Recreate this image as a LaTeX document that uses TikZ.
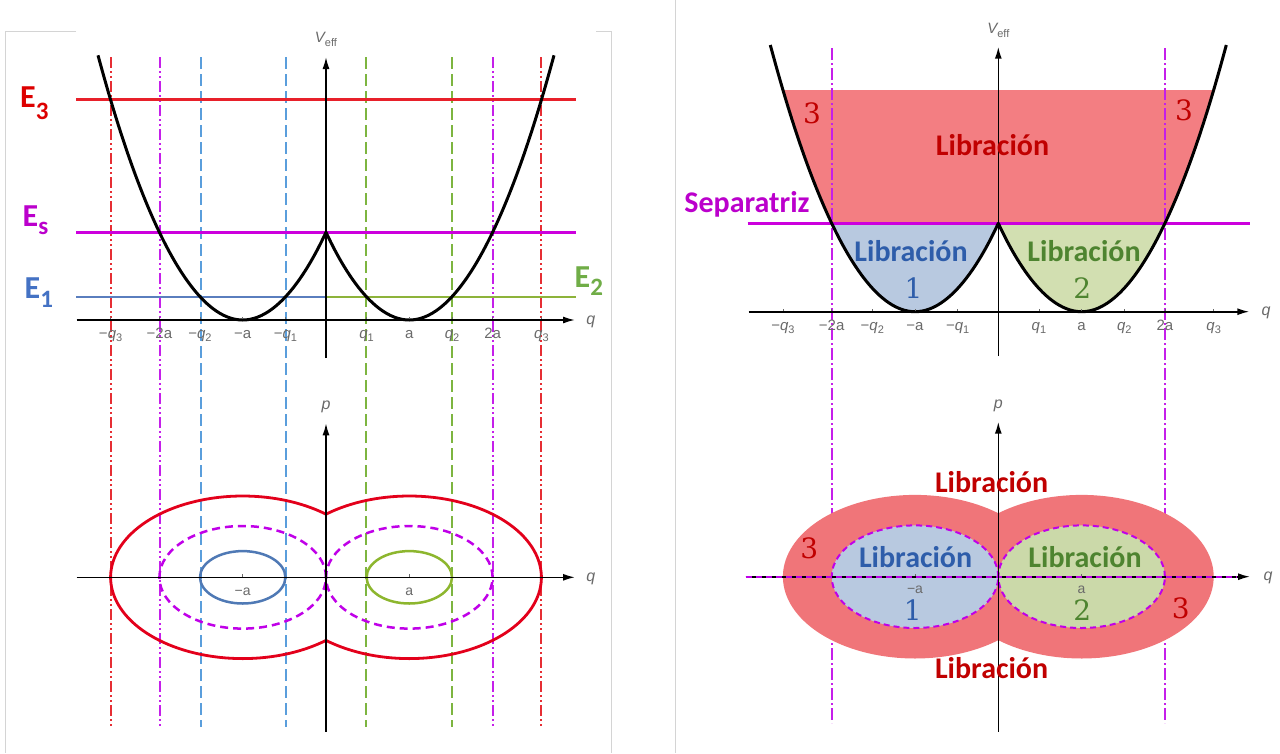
\documentclass[tikz,border=0pt]{standalone}
\usepackage{fontspec}
\usetikzlibrary{arrows.meta}
\newfontfamily\labf{Carlito}
\newfontfamily\tkf{Liberation Sans}
\newfontfamily\numf{DejaVu Serif}
\definecolor{framec}{HTML}{D4D4D4}
\definecolor{tickgray}{HTML}{6A6A6A}
\definecolor{eline3}{HTML}{E8202A}
\definecolor{elines}{HTML}{CC00DD}
\definecolor{eline1}{HTML}{5A7EBE}
\definecolor{eline2}{HTML}{8DB33A}
\definecolor{elab3}{HTML}{DD0000}
\definecolor{elabs}{HTML}{BB00CC}
\definecolor{elab1}{HTML}{4472C4}
\definecolor{elab2}{HTML}{70AD47}
\definecolor{vred}{HTML}{E62E34}
\definecolor{vmag}{HTML}{C51FEA}
\definecolor{vblue}{HTML}{5A9EDC}
\definecolor{vgreen}{HTML}{7DB540}
\definecolor{fillred}{HTML}{F37E82}
\definecolor{fillredb}{HTML}{F07579}
\definecolor{fillblue}{HTML}{B8C9E0}
\definecolor{fillgreen}{HTML}{D2DFB1}
\definecolor{fillgreenb}{HTML}{CBD9A9}
\definecolor{txtred}{HTML}{C00000}
\definecolor{txtblue}{HTML}{2E5DAA}
\definecolor{txtgreen}{HTML}{4E8430}
\definecolor{cred}{HTML}{E3001B}
\definecolor{cmag}{HTML}{C000E8}
\definecolor{cblue}{HTML}{4F79B5}
\definecolor{cgreen}{HTML}{8DB62E}
\newcommand\qsub[2]{#1{\itshape q}\raisebox{-3pt}{\fontsize{11}{11}\selectfont #2}}
\begin{document}
\begin{tikzpicture}[x=1pt,y=-1pt,
  axisline/.style={line width=1.6pt, black, -{Latex[length=12pt,width=7pt]}},
  vdd/.style={line width=2pt, dash pattern=on 11pt off 3pt on 2pt off 3pt on 2pt off 3pt},
  vda/.style={line width=2pt, dash pattern=on 12pt off 5pt},
  vdot/.style={line width=2pt, dash pattern=on 12pt off 3pt on 2pt off 3pt},
  curve/.style={line width=3pt, black, line join=round},
  tickmark/.style={line width=0.8pt, tickgray},
  tlab/.style={font=\tkf\fontsize{15}{15}\selectfont, text=tickgray, anchor=base, inner sep=0pt},
  slab/.style={font=\tkf\fontsize{14}{14}\selectfont, text=tickgray, anchor=base, inner sep=0pt},
  axlab/.style={font=\tkf\itshape\fontsize{16}{16}\selectfont, text=tickgray, anchor=base, inner sep=0pt},
  vefflab/.style={font=\tkf\fontsize{15}{15}\selectfont, text=tickgray, anchor=base, inner sep=0pt},
  biglab/.style={font=\labf\bfseries\fontsize{30}{30}\selectfont, anchor=base, inner sep=0pt},
  numlab/.style={font=\numf\fontsize{28}{28}\selectfont, anchor=base, inner sep=0pt},
  elabel/.style={font=\labf\bfseries\fontsize{32}{32}\selectfont, anchor=base west, inner sep=0pt},
  sepdash/.style={line width=2.5pt, cmag, dash pattern=on 8pt off 5pt},
  sepdashb/.style={line width=2pt, cmag, dash pattern=on 6pt off 4pt}
]
\useasboundingbox (0,0) rectangle (1280,753);
\fill[white] (0,0) rectangle (1280,753);

% frames
\draw[framec, line width=1pt] (76,31.5) -- (5.5,31.5) -- (5.5,753);
\draw[framec, line width=1pt] (596,31.5) -- (611.5,31.5) -- (611.5,753);
\draw[framec, line width=1pt] (675.5,0) -- (675.5,753);

% ================= LEFT: vertical guide lines =================
\draw[vdd, vred] (111,57) -- (111,727);
\draw[vdd, vred] (541,57) -- (541,727);
\draw[vdd, vmag] (160,57) -- (160,727);
\draw[vdd, vmag] (493,57) -- (493,727);
\draw[vda, vblue] (201,57) -- (201,727);
\draw[vda, vblue] (286,57) -- (286,727);
\draw[vda, vgreen] (366,57) -- (366,727);
\draw[vda, vgreen] (452,57) -- (452,727);

% ================= TOP LEFT: potential =================
\begin{scope}[shift={(326,320)}, yscale=-1]
  \draw[line width=2.5pt, eline3] (-250,220.7) -- (249.7,220.7);
  \draw[line width=2.5pt, elines] (-250,87.7) -- (249.7,87.7);
  \draw[line width=2.5pt, eline1] (-250,23) -- (0,23);
  \draw[line width=2.5pt, eline2] (0,23) -- (249.7,23);
  \draw[curve] (-228,264.7) parabola bend (-83.3,0) (0,87.7) parabola bend (83.3,0) (228,264.7);
  \foreach \xx in {-215.4,-166.6,-126,-83.3,-40.6,40.6,83.3,126,166.6,215.4}
    \draw[tickmark] (\xx,0) -- (\xx,3);
  \draw[axisline] (-249.3,0) -- (249,0);
  \draw[axisline] (0,-38) -- (0,263);
\end{scope}
\node[vefflab] (veffL) at (326,42.7) {{\itshape V}\raisebox{-4pt}{\fontsize{11}{11}\selectfont eff}};
\node[axlab] (qL) at (590.7,324.5) {q};
\foreach \xx/\lbl [count=\i] in {110.6/{\qsub{−}{3}},159.4/{−2a},200/{\qsub{−}{2}},242.7/{−a},285.4/{\qsub{−}{1}},366.6/{\qsub{}{1}},409.3/{a},452/{\qsub{}{2}},492.6/{2a},541.4/{\qsub{}{3}}}
  \node[tlab] (tl\i) at (\xx,338) {\lbl};

\node[elabel, text=elab3] (E3) at (20,107.3) {E\raisebox{-12pt}{\fontsize{25}{25}\selectfont 3}};
\node[elabel, text=elabs] (Es) at (22.5,226.7) {E\raisebox{-8pt}{\fontsize{25}{25}\selectfont s}};
\node[elabel, text=elab1] (E1) at (24.5,298.3) {E\raisebox{-9pt}{\fontsize{25}{25}\selectfont 1}};
\node[elabel, text=elab2] (E2) at (574.5,287.3) {E\raisebox{-8pt}{\fontsize{25}{25}\selectfont 2}};

% ================= BOTTOM LEFT: phase portrait =================
\begin{scope}[shift={(326,577.3)}, yscale=-1]
  \draw[line width=2.8pt, cred, line join=round] plot[domain=50.9:309.1,samples=100] ({-83.3+132.1*cos(\x)},{81.3*sin(\x)})
     -- plot[domain=-129.1:129.1,samples=100] ({83.3+132.1*cos(\x)},{81.3*sin(\x)}) -- cycle;
  \draw[sepdash] (-83.3,0) ellipse [x radius=83.3, y radius=51.3];
  \draw[sepdash] (83.3,0) ellipse [x radius=83.3, y radius=51.3];
  \draw[line width=2.5pt, cblue] (-83.3,0) ellipse [x radius=42.7, y radius=26.2];
  \draw[line width=2.5pt, cgreen] (83.3,0) ellipse [x radius=42.7, y radius=26.2];
  \draw[tickmark] (-83.3,0) -- (-83.3,3);
  \draw[tickmark] (83.3,0) -- (83.3,3);
  \draw[axisline] (-249.3,0) -- (249,0);
  \draw[axisline] (0,-154.4) -- (0,154);
\end{scope}
\node[axlab] (pL) at (326,409) {p};
\node[axlab] (qL2) at (590.7,581) {q};
\node[slab] (maL) at (242.7,595) {−a};
\node[slab] (paL) at (409.3,595) {a};

% ================= TOP RIGHT =================
\begin{scope}[shift={(998.3,311.7)}, yscale=-1]
  \fill[fillred] (-166.6,88.4) -- (166.6,88.4)
     -- plot[domain=166.6:215.2,samples=30] (\x,{(0.11287*(\x-83.3))^2})
     -- (215.2,221.7) -- (-215.2,221.7)
     -- plot[domain=-215.2:-166.6,samples=30] (\x,{(0.11287*(-\x-83.3))^2}) -- cycle;
  \fill[fillblue] (-166.6,88.4) parabola bend (-83.3,0) (0,88.4) -- cycle;
  \fill[fillgreen] (0,88.4) parabola bend (83.3,0) (166.6,88.4) -- cycle;
\end{scope}
\draw[vdot, vmag] (832,48) -- (832,723);
\draw[vdot, vmag] (1165,48) -- (1165,723);
\begin{scope}[shift={(998.3,311.7)}, yscale=-1]
  \draw[line width=3.5pt, elines] (-250.7,88.4) -- (251.7,88.4);
  \draw[curve] (-228,266.7) parabola bend (-83.3,0) (0,88.4) parabola bend (83.3,0) (228,266.7);
  \foreach \xx in {-215.4,-166.6,-126,-83.3,-40.6,40.6,83.3,126,166.6,215.4}
    \draw[tickmark] (\xx,0) -- (\xx,3);
  \draw[axisline] (-249.6,0) -- (251,0);
  \draw[axisline] (0,-44.3) -- (0,265);
\end{scope}
\node[vefflab] (veffR) at (998.3,33.3) {{\itshape V}\raisebox{-4pt}{\fontsize{11}{11}\selectfont eff}};
\node[axlab] (qR) at (1266,315.5) {q};
\foreach \xx/\lbl [count=\i] in {782.9/{\qsub{−}{3}},831.7/{−2a},872.3/{\qsub{−}{2}},915/{−a},957.7/{\qsub{−}{1}},1038.9/{\qsub{}{1}},1081.6/{a},1124.3/{\qsub{}{2}},1164.9/{2a},1213.7/{\qsub{}{3}}}
  \node[tlab] (tr\i) at (\xx,330) {\lbl};

\node[biglab, text=elabs] (sepx) at (747,212.3) {Separatriz};
\node[biglab, text=txtred] (libT) at (992.5,155) {Libración};
\node[numlab, text=txtred] (n3a) at (812,123.3) {3};
\node[numlab, text=txtred] (n3b) at (1184,120) {3};
\node[biglab, text=txtblue] (libB) at (911,261.7) {Libración};
\node[numlab, text=txtblue] (n1) at (913.6,298.3) {1};
\node[biglab, text=txtgreen] (libG) at (1084,261.7) {Libración};
\node[numlab, text=txtgreen] (n2) at (1082.3,298.3) {2};

% ================= BOTTOM RIGHT =================
\begin{scope}[shift={(998.3,576.7)}, yscale=-1]
  \fill[fillredb] plot[domain=50.9:309.1,samples=100] ({-83.3+132.1*cos(\x)},{81.8*sin(\x)})
     -- plot[domain=-129.1:129.1,samples=100] ({83.3+132.1*cos(\x)},{81.8*sin(\x)}) -- cycle;
  \fill[fillblue] (-83.3,0) ellipse [x radius=83.3, y radius=51.3];
  \fill[fillgreenb] (83.3,0) ellipse [x radius=83.3, y radius=51.3];
\end{scope}
\begin{scope}[shift={(998.3,576.7)}, yscale=-1]
  \draw[sepdashb] (-83.3,0) ellipse [x radius=83.3, y radius=51.3];
  \draw[sepdashb] (83.3,0) ellipse [x radius=83.3, y radius=51.3];
  \draw[tickmark] (-83.3,0) -- (-83.3,3);
  \draw[tickmark] (83.3,0) -- (83.3,3);
  \draw[axisline] (-252.6,0) -- (251.7,0);
  \draw[sepdashb] (-252.6,0) -- (238,0);
  \draw[axisline] (0,-155) -- (0,155);
\end{scope}
\node[axlab] (pR) at (998.3,408) {p};
\node[axlab] (qR2) at (1268,580) {q};
\node[slab] (maR) at (915,593.3) {−a};
\node[slab] (paR) at (1081.6,593.3) {a};

\node[biglab, text=txtred] (libT2) at (991.6,492.7) {Libración};
\node[biglab, text=txtred] (libB2) at (991.6,678.3) {Libración};
\node[numlab, text=txtred] (m3a) at (809.2,558.3) {3};
\node[numlab, text=txtred] (m3b) at (1180.8,618.3) {3};
\node[biglab, text=txtblue] (libB3) at (915.6,567.3) {Libración};
\node[numlab, text=txtblue] (m1) at (912.8,620.7) {1};
\node[biglab, text=txtgreen] (libG3) at (1085,567.3) {Libración};
\node[numlab, text=txtgreen] (m2) at (1082.3,620.7) {2};
\end{tikzpicture}
\end{document}
